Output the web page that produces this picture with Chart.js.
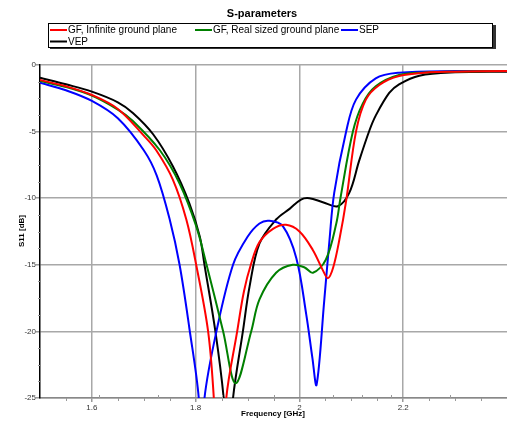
<!DOCTYPE html>
<html>
<head>
<meta charset="utf-8">
<script src="https://cdn.jsdelivr.net/npm/chart.js@4/dist/chart.umd.min.js"></script>
<style>
  body { margin: 0; background: #fff; }
  #wrap { width: 507px; height: 422px; }
</style>
</head>
<body>
<div id="wrap"><canvas id="sparam" width="507" height="422"></canvas></div>
<script>
// S11 curves (GHz, dB)
const gfInfFreq = [1.5, 1.55, 1.6, 1.65, 1.7, 1.724, 1.756, 1.782, 1.801, 1.824, 1.835, 1.847, 1.859, 1.88, 1.893, 1.907, 1.923, 1.949, 1.974, 2.0, 2.026, 2.045, 2.055, 2.065, 2.077, 2.09, 2.109, 2.128, 2.154, 2.192, 2.25, 2.3, 2.4];
const gfInfS11 = [-1.13, -1.6, -2.25, -3.3, -5.3, -6.4, -8.6, -11.6, -15, -20, -25, -33, -25, -20, -17, -14.9, -13.3, -12.3, -12.0, -12.5, -13.9, -15.4, -16.0, -15.2, -13.1, -10.2, -5.0, -2.6, -1.5, -0.83, -0.55, -0.5, -0.45];

const gfRealFreq = [1.5, 1.55, 1.6, 1.65, 1.679, 1.731, 1.769, 1.801, 1.821, 1.853, 1.877, 1.907, 1.923, 1.955, 1.987, 2.01, 2.026, 2.051, 2.071, 2.079, 2.103, 2.122, 2.147, 2.192, 2.25, 2.3, 2.4];
const gfRealS11 = [-1.2, -1.65, -2.3, -3.35, -4.2, -6.4, -8.9, -12.1, -15, -20, -23.9, -20, -17.6, -15.6, -15.0, -15.2, -15.6, -14.6, -11.9, -10.0, -5.0, -2.9, -1.6, -0.75, -0.55, -0.5, -0.45];

const sepFreq = [1.5, 1.55, 1.6, 1.65, 1.7, 1.725, 1.75, 1.769, 1.788, 1.806, 1.811, 1.817, 1.84, 1.872, 1.9, 1.923, 1.942, 1.968, 1.994, 2.013, 2.025, 2.033, 2.048, 2.058, 2.067, 2.09, 2.109, 2.147, 2.192, 2.3, 2.4];
const sepS11 = [-1.33, -1.9, -2.7, -4.0, -6.4, -8.3, -11.6, -15, -19.8, -25, -30, -25, -20, -15, -12.9, -11.9, -11.7, -12.1, -14.5, -18.7, -22.0, -24.0, -17.6, -13.1, -9.6, -5.0, -2.6, -1.0, -0.58, -0.45, -0.45];

const vepFreq = [1.5, 1.55, 1.6, 1.65, 1.679, 1.718, 1.756, 1.788, 1.808, 1.817, 1.838, 1.854, 1.863, 1.872, 1.891, 1.904, 1.923, 1.955, 1.981, 2.003, 2.019, 2.045, 2.074, 2.096, 2.115, 2.135, 2.147, 2.173, 2.192, 2.231, 2.3, 2.4];
const vepS11 = [-0.95, -1.45, -2.0, -2.8, -3.6, -5.2, -7.6, -10.4, -12.9, -15, -20, -25, -30, -25, -20, -16.6, -13.4, -11.6, -10.8, -10.1, -10.0, -10.3, -10.6, -9.6, -7.2, -4.9, -3.8, -2.1, -1.45, -0.8, -0.55, -0.5];

const seriesNames = ['GF, Infinite ground plane', 'GF, Real sized ground plane', 'SEP', 'VEP'];
const seriesColors = ['#ff0000', '#008000', '#0000ff', '#000000'];
const freqTicks = [1.6, 1.8, 2, 2.2];
const dbTicks = [0, -5, -10, -15, -20, -25];
// stray upward tick marks seen on the reference frequency axis
const freqUpTicks = [1.614, 1.7275, 1.851, 1.9506, 2.064, 2.1206, 2.176, 2.29];

const FONT = '"Liberation Sans", Arial, sans-serif';

function toPoints(xs, ys) {
    return xs.map((x, i) => ({ x: x, y: ys[i] }));
}

const allSeries = [
    toPoints(gfInfFreq, gfInfS11),
    toPoints(gfRealFreq, gfRealS11),
    toPoints(sepFreq, sepS11),
    toPoints(vepFreq, vepS11)
];

// title, boxed legend, axis titles and minor ticks
const decorations = {
    id: 'decorations',
    afterDraw(chart) {
        const ctx = chart.ctx;
        const area = chart.chartArea;
        const x = chart.scales.x;
        const y = chart.scales.y;
        ctx.save();

        // minor ticks
        ctx.strokeStyle = '#999';
        ctx.lineWidth = 1;
        for (let v = 0; v >= -25; v -= 1.25) {
            if (v % 5 === 0) continue;
            const py = Math.round(y.getPixelForValue(v)) + 0.5;
            ctx.beginPath();
            ctx.moveTo(area.left - 2, py);
            ctx.lineTo(area.left, py);
            ctx.stroke();
        }
        for (let k = 31; k < 48; k++) {
            if (k % 4 === 0) continue;
            const px = Math.round(x.getPixelForValue(k * 0.05)) + 0.5;
            ctx.beginPath();
            ctx.moveTo(px, area.bottom);
            ctx.lineTo(px, area.bottom + 3);
            ctx.stroke();
        }
        freqUpTicks.forEach(v => {
            const px = Math.round(x.getPixelForValue(v)) + 0.5;
            ctx.beginPath();
            ctx.moveTo(px, area.bottom - 3);
            ctx.lineTo(px, area.bottom);
            ctx.stroke();
        });

        // title
        ctx.fillStyle = '#000';
        ctx.font = 'bold 11px ' + FONT;
        ctx.textAlign = 'center';
        ctx.textBaseline = 'middle';
        ctx.fillText('S-parameters', 262, 14);

        // legend box with shadow
        ctx.fillStyle = '#333';
        ctx.fillRect(50, 25, 446, 24);
        ctx.fillStyle = '#fff';
        ctx.fillRect(48, 23, 445, 24);
        ctx.strokeStyle = '#000';
        ctx.lineWidth = 1;
        ctx.strokeRect(48.5, 23.5, 444, 24);

        const slots = [[50, 30], [195, 30], [341, 30], [50, 41.5]];
        ctx.font = '10px ' + FONT;
        ctx.textAlign = 'left';
        chart.data.datasets.forEach((ds, i) => {
            const [lx, ly] = slots[i];
            ctx.strokeStyle = ds.borderColor;
            ctx.lineWidth = 2;
            ctx.beginPath();
            ctx.moveTo(lx, ly);
            ctx.lineTo(lx + 17, ly);
            ctx.stroke();
            ctx.fillStyle = '#000';
            ctx.fillText(ds.label, lx + 18, ly + 0.5);
        });

        // axis titles
        ctx.font = 'bold 8px ' + FONT;
        ctx.textAlign = 'center';
        ctx.fillText('Frequency [GHz]', 273, 414);
        ctx.translate(22, 231);
        ctx.rotate(-Math.PI / 2);
        ctx.fillText('S11 [dB]', 0, 0);

        ctx.restore();
    }
};

function initSParamChart() {
    const ctx = document.getElementById('sparam').getContext('2d');
    return new Chart(ctx, {
        type: 'line',
        data: {
            datasets: allSeries.map((pts, i) => ({
                label: seriesNames[i],
                data: pts,
                borderColor: seriesColors[i],
                backgroundColor: seriesColors[i],
                borderWidth: 2,
                pointRadius: 0,
                tension: 0.35,
                fill: false
            }))
        },
        options: {
            responsive: false,
            animation: false,
            layout: { padding: { top: 65, left: 0, right: 0, bottom: 0 } },
            plugins: {
                legend: { display: false },
                title: { display: false },
                tooltip: { enabled: false }
            },
            scales: {
                x: {
                    type: 'linear',
                    min: 1.5,
                    max: 2.4,
                    afterFit: scale => { scale.height = 24; },
                    afterBuildTicks: scale => { scale.ticks = freqTicks.map(v => ({ value: v })); },
                    grid: { color: '#a8a8a8', lineWidth: 1.5, tickLength: 4, tickColor: '#999' },
                    border: { color: '#888', width: 1.5 },
                    ticks: {
                        color: '#333',
                        font: { family: FONT, size: 8 },
                        padding: 1,
                        maxRotation: 0,
                        callback: v => String(v)
                    }
                },
                y: {
                    min: -25,
                    max: 0,
                    afterFit: scale => { scale.width = 40; },
                    afterBuildTicks: scale => { scale.ticks = dbTicks.map(v => ({ value: v })); },
                    grid: { color: '#a8a8a8', lineWidth: 1.5, tickLength: 4, tickColor: '#999' },
                    border: { color: '#000', width: 1.5 },
                    ticks: {
                        color: '#333',
                        font: { family: FONT, size: 8 },
                        padding: 0,
                        callback: v => String(v)
                    }
                }
            }
        },
        plugins: [decorations]
    });
}

document.addEventListener('DOMContentLoaded', () => {
    initSParamChart();
});
</script>
</body>
</html>
